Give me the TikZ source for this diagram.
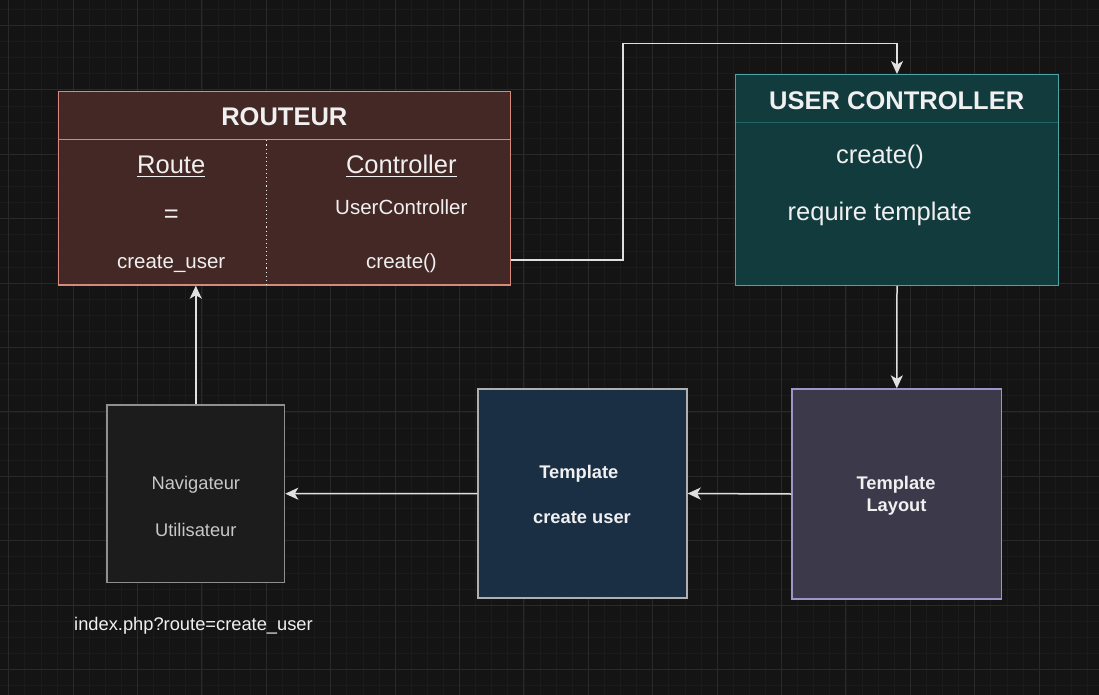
\documentclass[tikz,border=0pt]{standalone}
\usepackage{fontspec}
\setmainfont{Liberation Sans}
\usetikzlibrary{calc, arrows.meta, positioning}

\definecolor{bgcol}{HTML}{141414}
\definecolor{gridminor}{HTML}{1B1B1B}
\definecolor{gridmajor}{HTML}{292929}
\definecolor{txtcol}{HTML}{F0F0F0}
\definecolor{navtxt}{HTML}{C8C8C8}
\definecolor{arrcol}{HTML}{E0E0E0}
\definecolor{routeurfill}{HTML}{432825}
\definecolor{routeurline}{HTML}{D9897B}
\definecolor{ucfill}{HTML}{123B3E}
\definecolor{ucline}{HTML}{4DA3A6}
\definecolor{ucsep}{HTML}{236567}
\definecolor{tplfill}{HTML}{1A2E44}
\definecolor{tplline}{HTML}{B0B0B0}
\definecolor{layfill}{HTML}{3C394B}
\definecolor{layline}{HTML}{9D96CB}
\definecolor{navfill}{HTML}{1C1C1C}
\definecolor{navline}{HTML}{8F8F8F}

\begin{document}
\begin{tikzpicture}[x=1pt, y=-1pt,
    box/.style={rectangle, draw, line width=1.3pt, inner sep=0pt},
    lbl/.style={text=txtcol, inner sep=0pt, anchor=base},
    bigtxt/.style={lbl, font=\fontsize{25.5}{30}\selectfont},
    bigbold/.style={lbl, font=\fontsize{25.5}{30}\selectfont\bfseries},
    midtxt/.style={lbl, font=\fontsize{20.5}{24}\selectfont},
    smalltxt/.style={lbl, font=\fontsize{18.3}{22}\selectfont},
    smallbold/.style={lbl, font=\fontsize{18.3}{22}\selectfont\bfseries},
    uline/.style={draw=txtcol, line width=1.2pt},
    link/.style={draw=arrcol, line width=1.5pt,
      -{Stealth[length=13pt, width=12pt, inset=3.5pt]}}]

  % background and grid
  \fill[bgcol] (0,0) rectangle (1099,695);
  \useasboundingbox (0,0) rectangle (1099,695);
  \begin{scope}
    \clip (0,0) rectangle (1099,695);
    \foreach \i in {-1,...,68}
      \draw[gridminor, line width=0.8pt] ({8.7+16.1*\i},0) -- ({8.7+16.1*\i},695);
    \foreach \i in {-2,...,42}
      \draw[gridminor, line width=0.8pt] (0,{25.5+16.1*\i}) -- (1099,{25.5+16.1*\i});
    \foreach \i in {0,...,17}
      \draw[gridmajor, line width=1pt] ({8.7+64.4*\i},0) -- ({8.7+64.4*\i},695);
    \foreach \i in {0,...,10}
      \draw[gridmajor, line width=1pt] (0,{25.5+64.4*\i}) -- (1099,{25.5+64.4*\i});
  \end{scope}

  % routeur
  \node[box, draw=routeurline, fill=routeurfill, minimum width=452, minimum height=193.7] (routeur) at (284.3,188.2) {};
  \node[box, draw=routeurline, fill=routeurfill, minimum width=452, minimum height=48.4] (routeurHead) at (284.3,115.5) {};
  \coordinate (divX) at (266.7,0);
  \draw[txtcol, line width=1.1pt, dash pattern=on 1.1pt off 3pt] (routeurHead.south -| divX) -- (routeur.south -| divX);
  \node[bigbold] (routeurTitle) at (284.3,125.7) {ROUTEUR};
  \node[bigtxt] (routeLbl) at (171.2,173.3) {Route};
  \node[bigtxt] (ctrlLbl) at (401.3,173.3) {Controller};
  \draw[uline] ([yshift=-3pt]routeLbl.base west) -- ([yshift=-3pt]routeLbl.base east);
  \draw[uline] ([yshift=-3pt]ctrlLbl.base west) -- ([yshift=-3pt]ctrlLbl.base east);
  \node[bigtxt] (eqLbl) at (171.2,222.5) {=};
  \node[midtxt] (ucRefLbl) at (401.3,214) {UserController};
  \node[midtxt] (routeNameLbl) at (171.2,268.3) {create\_user};
  \node[midtxt] (createLbl) at (401.5,268.3) {create()};

  % user controller
  \node[box, draw=ucline, fill=ucfill, minimum width=322.6, minimum height=210.6] (userCtrl) at (897,180) {};
  \coordinate (ucSep) at (897,122.3);
  \draw[ucsep, line width=1.3pt] ([xshift=0.7pt]userCtrl.west |- ucSep) -- ([xshift=-0.7pt]userCtrl.east |- ucSep);
  \node[bigbold] (ucTitle) at (896.7,110) {USER CONTROLLER};
  \node[bigtxt] (ucCreate) at (880,163.3) {create()};
  \node[bigtxt] (ucRequire) at (879.8,220.7) {require template};

  % templates
  \node[box, draw=layline, fill=layfill, minimum width=209.7, minimum height=210] (layout) at (896.8,494) {};
  \node[smallbold] (layoutLbl) at (896,489) {Template};
  \node[smallbold] (layoutLbl2) at (896.5,511.7) {Layout};
  \node[box, draw=tplline, fill=tplfill, minimum width=209, minimum height=209] (tplUser) at (582.5,493.5) {};
  \node[smallbold] (tplLbl) at (578.8,478.3) {Template};
  \node[smallbold] (tplUserLbl) at (582,523.3) {create user};

  % navigateur
  \node[box, draw=navline, fill=navfill, minimum width=177.7, minimum height=177.3] (navig) at (195.8,493.7) {};
  \node[smalltxt, text=navtxt] (navLbl) at (195.8,489.3) {Navigateur};
  \node[smalltxt, text=navtxt] (userLbl) at (195.8,536) {Utilisateur};
  \node[smalltxt, anchor=base west] (urlLbl) at (74,630) {index.php?route=create\_user};

  % links
  \coordinate (bendLow) at (623,260);
  \coordinate (bendTop) at (623,43.3);
  \draw[link] (routeur.east |- bendLow) -- (bendLow) -- (bendTop) -| (userCtrl.north);
  \draw[link] (userCtrl.south) -- (layout.north);
  \draw[link] (layout.west) -- (tplUser.east);
  \draw[link] (tplUser.west) -- (navig.east);
  \draw[link] (navig.north) -- (routeur.south -| navig.north);
\end{tikzpicture}
\end{document}
